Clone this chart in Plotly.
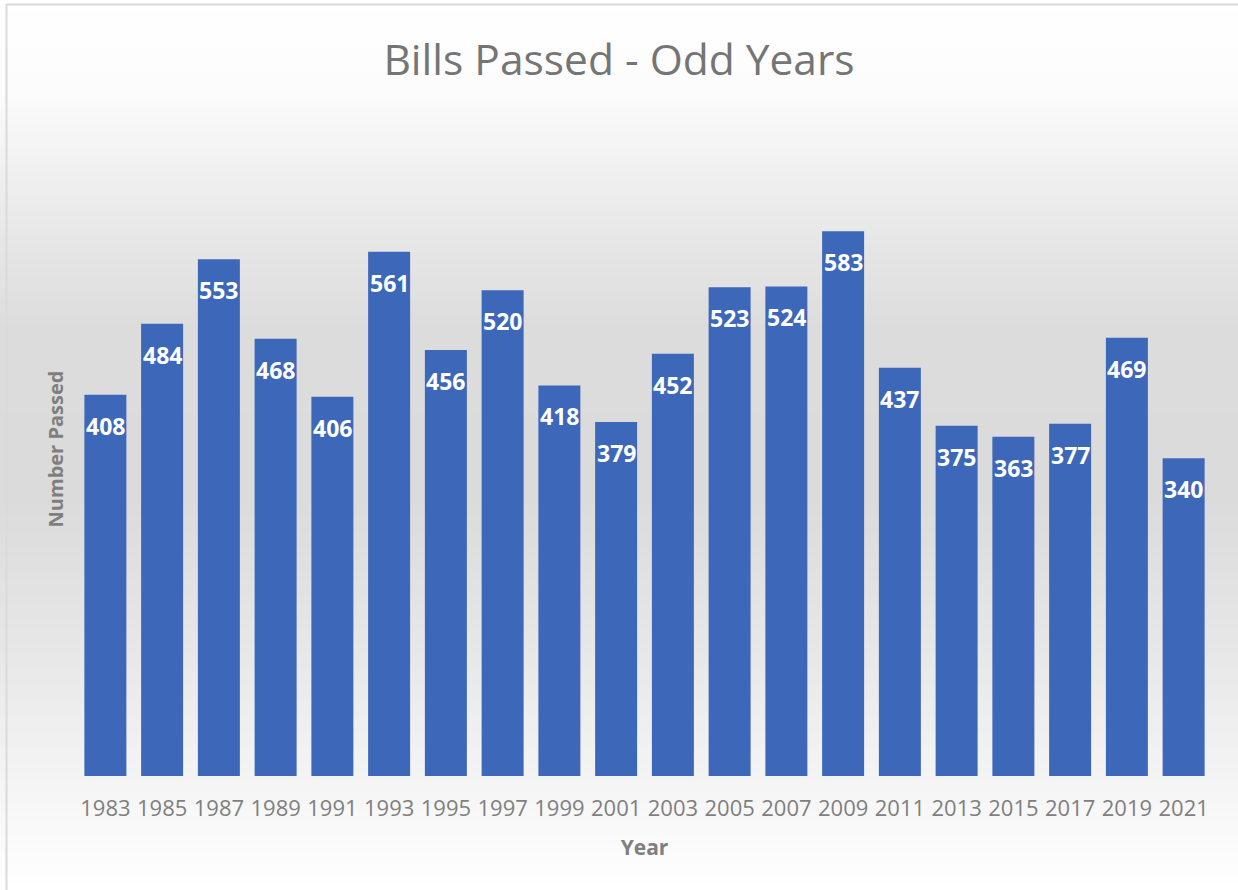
import plotly.graph_objects as go

years = ["1983", "1985", "1987", "1989", "1991", "1993", "1995", "1997", "1999", "2001",
         "2003", "2005", "2007", "2009", "2011", "2013", "2015", "2017", "2019", "2021"]
bills = [408, 484, 553, 468, 406, 561, 456, 520, 418, 379,
         452, 523, 524, 583, 437, 375, 363, 377, 469, 340]

W, H = 1238, 890
L, R, T, B = 77, 26, 122, 114
pw, ph = W - L - R, H - T - B

def px2paper_x(x):
    return (x - L) / pw

def px2paper_y(y):
    return 1 - (y - T) / ph

# background vertical gradient stops (pixel y, gray level)
stops = [(0, 255), (90, 252), (200, 236), (330, 220), (500, 219), (650, 231), (776, 244), (890, 255)]

def gray_at(y):
    for (y0, g0), (y1, g1) in zip(stops, stops[1:]):
        if y0 <= y <= y1:
            return g0 + (g1 - g0) * (y - y0) / (y1 - y0)
    return 255

shapes = []
step = 6
for y in range(0, H, step):
    g = int(round(gray_at(y + step / 2)))
    shapes.append(dict(type="rect", xref="paper", yref="paper", layer="below",
                       x0=px2paper_x(0), x1=px2paper_x(W),
                       y0=px2paper_y(y + step + 0.5), y1=px2paper_y(y),
                       line=dict(width=0), fillcolor=f"rgb({g},{g},{g})"))
# outer frame (top and left edges visible)
shapes.append(dict(type="line", xref="paper", yref="paper", layer="above",
                   x0=px2paper_x(6), x1=px2paper_x(W), y0=px2paper_y(4.5), y1=px2paper_y(4.5),
                   line=dict(width=2, color="#dadada")))
shapes.append(dict(type="line", xref="paper", yref="paper", layer="above",
                   x0=px2paper_x(6.5), x1=px2paper_x(6.5), y0=px2paper_y(4), y1=px2paper_y(H),
                   line=dict(width=2, color="#dadada")))

fig = go.Figure()
fig.add_trace(go.Bar(x=years, y=bills, marker=dict(color="#3d67b9", line=dict(width=0)),
                     hoverinfo="x+y"))

annotations = [dict(x=i, y=v, xref="x", yref="y", text=f"<b>{v}</b>", showarrow=False,
                    yshift=-31, font=dict(family="Open Sans", size=23, color="white"))
               for i, v in enumerate(bills)]

fig.update_layout(
    width=W, height=H,
    margin=dict(l=L, r=R, t=T, b=B),
    paper_bgcolor="white",
    plot_bgcolor="rgba(0,0,0,0)",
    bargap=0.26,
    showlegend=False,
    shapes=shapes,
    annotations=annotations,
    title=dict(text="Bills Passed - Odd Years", x=0.5, xanchor="center", y=1 - 60 / H, yanchor="middle",
               font=dict(family="Open Sans", size=42.5, color="#757575")),
    xaxis=dict(
        type="category", range=[-0.5, len(years) - 0.5],
        title=dict(text="<b>Year</b>", font=dict(family="Open Sans", size=21, color="#7f7f7f"), standoff=19),
        tickfont=dict(family="Open Sans", size=22, color="#7f7f7f"),
        showline=False, showgrid=False, zeroline=False, ticks="", ticklabelstandoff=17,
    ),
    yaxis=dict(
        title=dict(text="<b>Number Passed</b>", font=dict(family="Open Sans", size=20, color="#7f7f7f"), standoff=7),
        range=[0, 700], showticklabels=False, showgrid=False, zeroline=False, showline=False, ticks="",
    ),
)

fig.write_html("out.html", config={"displayModeBar": False},
               post_script="document.body.style.margin='0';document.body.style.overflow='hidden';")
